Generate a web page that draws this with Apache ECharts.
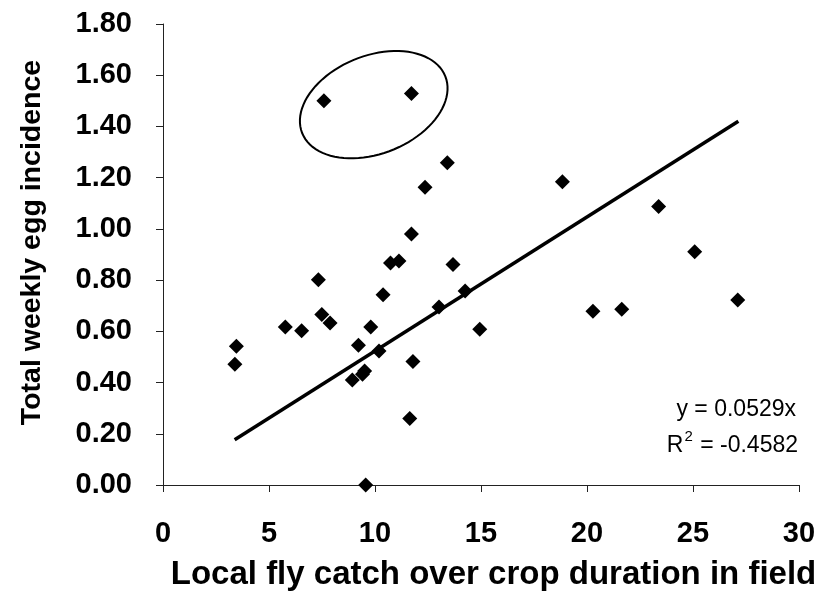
<!DOCTYPE html>
<html><head><meta charset="utf-8">
<script src="https://cdn.jsdelivr.net/npm/echarts@6/dist/echarts.min.js"></script>
<style>html,body{margin:0;padding:0;background:#fff}#c{width:824px;height:596px}</style>
</head><body><div id="c"></div>
<script>
// Local fly catch (x) and total weekly egg incidence (y)
const flyCatch = [3.39, 3.46, 5.77, 6.54, 7.33, 7.49, 7.59, 7.88, 8.93, 9.22, 9.41, 9.51, 9.56, 9.80, 10.19, 10.38, 10.73, 11.13, 11.64, 11.72, 11.72, 11.79, 12.36, 13.02, 13.41, 13.68, 14.25, 14.94, 18.84, 20.28, 21.64, 23.38, 25.08, 27.11];
const eggIncidence = [0.471, 0.542, 0.617, 0.602, 0.801, 0.666, 1.500, 0.633, 0.410, 0.546, 0.432, 0.445, 0.00, 0.617, 0.523, 0.743, 0.867, 0.875, 0.260, 0.980, 1.529, 0.482, 1.163, 0.695, 1.258, 0.861, 0.757, 0.608, 1.184, 0.678, 0.686, 1.087, 0.911, 0.722];
// Trend line end points
const trendX = [3.38, 27.14];
const trendY = [0.177, 1.42];
// Circled outliers: centre of the annotation ellipse (data units)
const ellipseCenter = [9.94, 1.485];
// Axis ticks
const xMin = 0, xMax = 30, xStep = 5;
const yMin = 0, yMax = 1.8, yStep = 0.2;
const equationLine = 'y = 0.0529x';
const r2Value = '-0.4582';
const xTitle = 'Local fly catch over crop duration in field';
const yTitle = 'Total weekly egg incidence';

const points = flyCatch.map((x, i) => [x, eggIncidence[i]]);
const trend = trendX.map((x, i) => [x, trendY[i]]);
const FONT = '"Liberation Sans", Arial, Helvetica, sans-serif';

const chart = echarts.init(document.getElementById('c'), null, {renderer: 'canvas'});
chart.setOption({
  animation: false,
  backgroundColor: '#fff',
  grid: {left: 163, right: 25, top: 24, bottom: 109, containLabel: false},
  xAxis: {
    type: 'value', min: xMin, max: xMax, interval: xStep,
    splitLine: {show: false},
    axisLine: {lineStyle: {color: '#222', width: 1}},
    axisTick: {show: true, length: 7, lineStyle: {color: '#222'}},
    axisLabel: {fontSize: 29, fontWeight: 'bold', color: '#000', fontFamily: FONT, margin: 34},
    name: xTitle, nameLocation: 'middle', nameGap: 73,
    nameTextStyle: {fontSize: 33, fontWeight: 'bold', color: '#000', fontFamily: FONT, padding: [0, 0, 0, 25]}
  },
  yAxis: {
    type: 'value', min: yMin, max: yMax, interval: yStep,
    splitLine: {show: false},
    axisLine: {show: true, lineStyle: {color: '#222', width: 1}},
    axisTick: {show: true, length: 7, lineStyle: {color: '#222'}},
    axisLabel: {fontSize: 29, fontWeight: 'bold', color: '#000', fontFamily: FONT, margin: 31,
      formatter: v => v.toFixed(2)},
    name: yTitle, nameLocation: 'middle', nameGap: 116, nameRotate: 90,
    nameTextStyle: {fontSize: 28.5, fontWeight: 'bold', color: '#000', fontFamily: FONT, padding: [0, 0, 0, 24]}
  },
  series: [
    {
      type: 'line', data: trend, symbol: 'none', silent: true,
      lineStyle: {color: '#000', width: 3.5}, z: 2
    },
    {
      type: 'scatter', data: points, symbol: 'diamond', symbolSize: 15,
      itemStyle: {color: '#000', opacity: 1}, z: 3
    },
    {
      type: 'custom', data: [ellipseCenter], clip: false, silent: true, z: 4,
      renderItem: function (params, api) {
        const c = api.coord([api.value(0), api.value(1)]);
        const a = 77, b = 49, th = -21.6 * Math.PI / 180;
        const pts = [];
        for (let i = 0; i <= 90; i++) {
          const t = i / 90 * 2 * Math.PI;
          const x = a * Math.cos(t), y = b * Math.sin(t);
          pts.push([c[0] + x * Math.cos(th) - y * Math.sin(th), c[1] + x * Math.sin(th) + y * Math.cos(th)]);
        }
        return {type: 'polyline', shape: {points: pts}, style: {fill: null, stroke: '#000', lineWidth: 2}};
      }
    }
  ],
  graphic: [
    {type: 'text', right: 28, top: 398, style: {text: equationLine, font: '23px ' + FONT, fill: '#000'}},
    {type: 'text', right: 26, top: 429, style: {
      text: '{m|R}{s|2}{m| = ' + r2Value + '}', fill: '#000',
      rich: {
        m: {fontSize: 23, fontFamily: FONT, color: '#000', lineHeight: 28, verticalAlign: 'bottom'},
        s: {fontSize: 15, fontFamily: FONT, color: '#000', lineHeight: 28, verticalAlign: 'top', padding: [0, 1, 0, 1]}
      }
    }}
  ]
});
</script>
</body></html>
